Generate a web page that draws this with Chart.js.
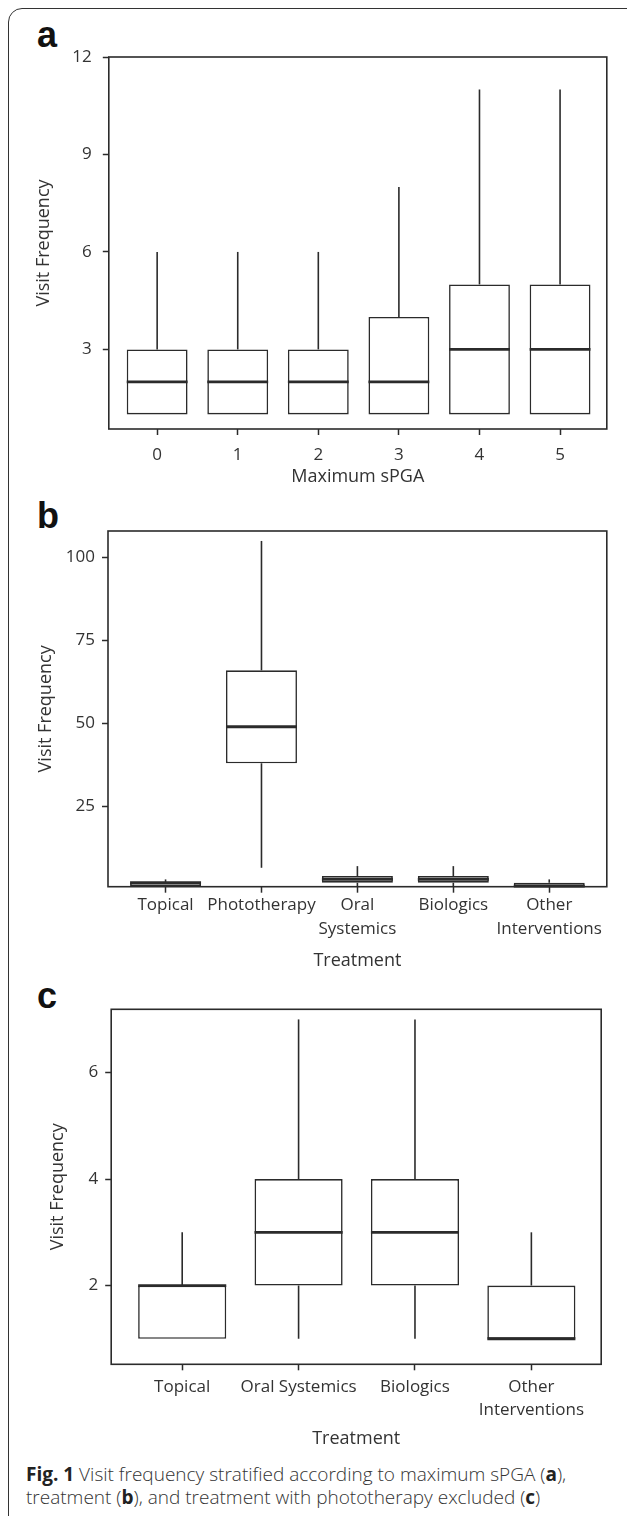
<!DOCTYPE html>
<html>
<head>
<meta charset="utf-8">
<script src="https://cdn.jsdelivr.net/npm/chart.js@4/dist/chart.umd.min.js"></script>
<style>
  body { margin: 0; background: #fff; width: 627px; height: 1516px; overflow: hidden; position: relative; font-family: 'Open Sans', sans-serif; }
  .frame { position: absolute; left: 8px; top: 8px; width: 660px; height: 1560px; border: 1.5px solid #333; border-radius: 14px; }
  canvas { position: absolute; left: 0; }
  .tag { position: absolute; left: 37px; font: bold 36px 'Liberation Sans', Arial, sans-serif; line-height: 1; color: #111; }
  .caption { position: absolute; left: 26px; top: 1463px; font-size: 19px; font-weight: 300; line-height: 23px; color: #333; white-space: nowrap; }
  .caption b { font-weight: 700; color: #222; }
</style>
</head>
<body>
<div class="frame"></div>
<div class="tag" style="top:16.5px">a</div>
<div class="tag" style="top:497.5px">b</div>
<div class="tag" style="top:977.5px">c</div>
<canvas id="chartA" width="627" height="492" style="top:0"></canvas>
<canvas id="chartB" width="627" height="481" style="top:495px"></canvas>
<canvas id="chartC" width="627" height="464" style="top:990px"></canvas>
<div class="caption"><b>Fig. 1</b> Visit frequency stratified according to maximum sPGA (<b>a</b>),<br>treatment (<b>b</b>), and treatment with phototherapy excluded (<b>c</b>)</div>

<script>
// Panel a: visit frequency by maximum sPGA
const sgaLabels = ['0', '1', '2', '3', '4', '5'];
const sgaMin = [1, 1, 1, 1, 1, 1];
const sgaQ1 = [1, 1, 1, 1, 1, 1];
const sgaMedian = [2, 2, 2, 2, 3, 3];
const sgaQ3 = [3, 3, 3, 4, 5, 5];
const sgaMax = [6, 6, 6, 8, 11, 11];
const sgaTicks = [3, 6, 9, 12];

// Panel b: by treatment
const treatLabels = ['Topical', 'Phototherapy', ['Oral', 'Systemics'], 'Biologics', ['Other', 'Interventions']];
const treatMin = [1, 6.5, 1, 1, 1];
const treatQ1 = [1, 38, 2, 2, 1];
const treatMedian = [2, 49, 3, 3, 1];
const treatQ3 = [2, 66, 4, 4, 2];
const treatMax = [3, 105, 7, 7, 3];
const treatTicks = [25, 50, 75, 100];

// Panel c: by treatment, phototherapy excluded
const noPhotoLabels = ['Topical', 'Oral Systemics', 'Biologics', ['Other', 'Interventions']];
const noPhotoMin = [1, 1, 1, 1];
const noPhotoQ1 = [1, 2, 2, 1];
const noPhotoMedian = [2, 3, 3, 1];
const noPhotoQ3 = [2, 4, 4, 2];
const noPhotoMax = [3, 7, 7, 3];
const noPhotoTicks = [2, 4, 6];

const INK = '#2b2b2b';
const TEXT = '#333';
const TICK_FONT = { family: "'Open Sans', sans-serif", size: 17 };
const TITLE_FONT = { family: "'Open Sans', sans-serif", size: 18 };

function strokeLine(ctx, x1, y1, x2, y2) {
  ctx.beginPath();
  ctx.moveTo(x1, y1);
  ctx.lineTo(x2, y2);
  ctx.stroke();
}

// Whiskers, medians and the frame round the plot area
const boxWhiskers = {
  id: 'boxWhiskers',
  afterDatasetsDraw(chart) {
    const { ctx, chartArea: a, scales: { x, y } } = chart;
    const s = chart.data.datasets[0].stats;
    const meta = chart.getDatasetMeta(0);
    ctx.save();
    ctx.strokeStyle = INK;
    meta.data.forEach((bar, i) => {
      const cx = x.getPixelForValue(i);
      const half = bar.width / 2;
      ctx.lineWidth = 1.6;
      if (s.max[i] > s.q3[i]) strokeLine(ctx, cx, y.getPixelForValue(s.q3[i]), cx, y.getPixelForValue(s.max[i]));
      if (s.min[i] < s.q1[i]) strokeLine(ctx, cx, y.getPixelForValue(s.q1[i]), cx, y.getPixelForValue(s.min[i]));
      ctx.lineWidth = 2.8;
      const my = y.getPixelForValue(s.median[i]);
      strokeLine(ctx, cx - half, my, cx + half, my);
    });
    ctx.lineWidth = 1.6;
    ctx.strokeRect(a.left, a.top, a.right - a.left, a.bottom - a.top);
    ctx.restore();
  }
};

function renderBoxChart(canvasId, p) {
  const canvas = document.getElementById(canvasId);
  return new Chart(canvas.getContext('2d'), {
    type: 'bar',
    data: {
      datasets: [{
        data: p.q1.map((q, i) => ({ x: i, y: [q, p.q3[i]] })),
        stats: { min: p.min, q1: p.q1, median: p.median, q3: p.q3, max: p.max },
        backgroundColor: '#fff',
        borderColor: INK,
        borderWidth: 1.6,
        borderSkipped: false,
        barPercentage: p.boxWidth,
        categoryPercentage: 1
      }]
    },
    options: {
      responsive: false,
      animation: false,
      devicePixelRatio: 1,
      layout: { padding: p.padding },
      plugins: { legend: { display: false }, tooltip: { enabled: false } },
      scales: {
        x: {
          type: 'linear',
          min: p.xRange[0],
          max: p.xRange[1],
          offset: false,
          afterBuildTicks: sc => { sc.ticks = p.labels.map((_, i) => ({ value: i })); },
          afterFit: sc => { sc.height = p.xHeight; },
          grid: { drawOnChartArea: false, offset: false, tickLength: 6, tickColor: INK, tickWidth: 1.5 },
          border: { display: false },
          ticks: {
            autoSkip: false, maxRotation: 0, color: TEXT, padding: p.xPad,
            font: { ...TICK_FONT, lineHeight: 1.4 },
            callback: (v, i) => p.labels[i]
          },
          title: { display: true, text: p.xTitle, color: TEXT, font: TITLE_FONT, padding: { top: 4, bottom: 4 } }
        },
        y: {
          min: p.yRange[0],
          max: p.yRange[1],
          beginAtZero: false,
          afterBuildTicks: sc => { sc.ticks = p.yTicks.map(v => ({ value: v })); },
          afterFit: sc => { sc.width = p.yWidth; },
          grid: { drawOnChartArea: false, tickLength: 6, tickColor: INK, tickWidth: 1.5 },
          border: { display: false },
          ticks: { color: TEXT, padding: p.yPad, font: TICK_FONT },
          title: { display: true, text: 'Visit Frequency', color: TEXT, font: TITLE_FONT, padding: { top: 4, bottom: 4 } }
        }
      }
    },
    plugins: [boxWhiskers]
  });
}

renderBoxChart('chartA', {
  labels: sgaLabels, min: sgaMin, q1: sgaQ1, median: sgaMedian, q3: sgaQ3, max: sgaMax, yTicks: sgaTicks,
  xTitle: 'Maximum sPGA', xRange: [-0.6, 5.58], yRange: [0.55, 12], boxWidth: 0.755,
  padding: { left: 29, top: 57, right: 20.2, bottom: 0 }, yWidth: 79.8, xHeight: 63, xPad: 7.8, yPad: 11
});

renderBoxChart('chartB', {
  labels: treatLabels, min: treatMin, q1: treatQ1, median: treatMedian, q3: treatQ3, max: treatMax, yTicks: treatTicks,
  xTitle: 'Treatment', xRange: [-0.6, 4.6], yRange: [0.8, 108], boxWidth: 0.74,
  padding: { left: 31, top: 36, right: 20.2, bottom: 0 }, yWidth: 77, xHeight: 89.3, xPad: 0.4, yPad: 7
});

renderBoxChart('chartC', {
  labels: noPhotoLabels, min: noPhotoMin, q1: noPhotoQ1, median: noPhotoMedian, q3: noPhotoQ3, max: noPhotoMax, yTicks: noPhotoTicks,
  xTitle: 'Treatment', xRange: [-0.61, 3.6], yRange: [0.52, 7.19], boxWidth: 0.757,
  padding: { left: 43, top: 19.3, right: 25.8, bottom: 0 }, yWidth: 68.2, xHeight: 89.7, xPad: 4.5, yPad: 7
});
</script>
</body>
</html>
